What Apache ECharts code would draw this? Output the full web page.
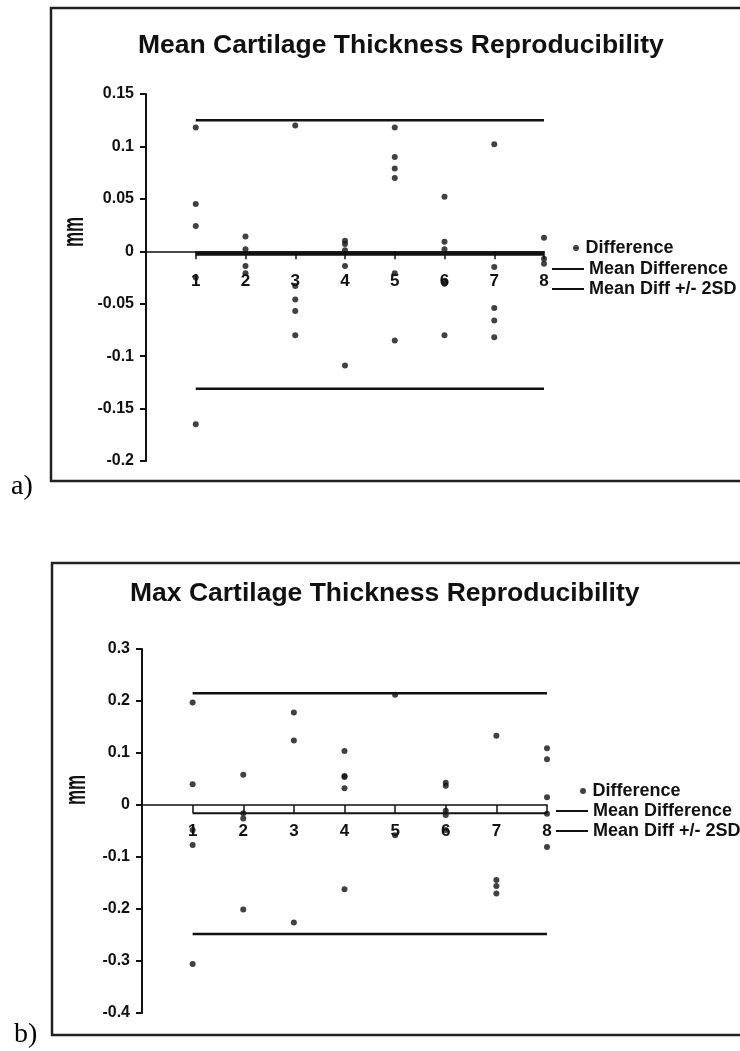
<!DOCTYPE html>
<html>
<head>
<meta charset="utf-8">
<title>Cartilage Thickness Reproducibility</title>
<script src="https://cdn.jsdelivr.net/npm/echarts@6/dist/echarts.min.js"></script>
<style>
    html, body { margin: 0; padding: 0; background: #fff; }
    #chart { width: 740px; height: 1051px; }
</style>
</head>
<body>
<div id="chart"></div>
<script>
    // cases on the x axis
    const cases = [1, 2, 3, 4, 5, 6, 7, 8]

    // a) mean cartilage thickness, differences per case (mm)
    const meanDiffs = [
        [0.118, 0.045, 0.024, -0.025, -0.165],
        [0.014, 0.002, -0.014, -0.021],
        [0.120, -0.033, -0.046, -0.057, -0.080],
        [0.010, 0.007, 0.001, -0.014, -0.109],
        [0.118, 0.090, 0.079, 0.070, -0.021, -0.085],
        [0.052, 0.009, 0.002, -0.028, -0.031, -0.080],
        [0.102, -0.015, -0.054, -0.066, -0.082],
        [0.013, -0.007, -0.012]
    ]
    const meanMean = -0.002
    const meanUpper = 0.125
    const meanLower = -0.131

    // b) max cartilage thickness, differences per case (mm)
    const maxDiffs = [
        [0.197, 0.040, -0.048, -0.077, -0.306],
        [0.058, -0.016, -0.026, -0.201],
        [0.178, 0.124, -0.226],
        [0.104, 0.056, 0.054, 0.032, -0.162],
        [0.212, -0.058],
        [0.043, 0.037, -0.011, -0.019, -0.048],
        [0.133, -0.144, -0.156, -0.170],
        [0.109, 0.088, 0.015, -0.017, -0.081]
    ]
    const maxMean = -0.016
    const maxUpper = 0.215
    const maxLower = -0.248

    const yTicksA = { min: -0.2, max: 0.15, interval: 0.05 }
    const yTicksB = { min: -0.4, max: 0.3, interval: 0.1 }

    const FONT = 'Liberation Sans, Arial, sans-serif'
    const INK = '#111'

    function points(groups) {
        let out = []
        groups.forEach((vals, i) => {
            vals.forEach(v => out.push([cases[i], v]))
        })
        return out
    }

    function hline(name, idx, val, width) {
        return {
            name: name,
            type: 'line',
            xAxisIndex: idx,
            yAxisIndex: idx,
            symbol: 'none',
            data: [[cases[0], val], [cases[cases.length - 1], val]],
            lineStyle: { color: INK, width: width },
            itemStyle: { color: INK },
            z: 3
        }
    }

    // labels sit just under the zero line, not at the grid bottom
    function xAxisOf(idx, margin) {
        return {
            type: 'value',
            gridIndex: idx,
            min: 0,
            max: 8,
            interval: 1,
            axisLine: { show: true, onZero: true, lineStyle: { color: INK, width: 1.5 } },
            axisTick: { show: true, length: 8, lineStyle: { color: INK, width: 1.5 } },
            axisLabel: {
                margin: margin,
                color: INK,
                fontFamily: FONT,
                fontWeight: 'bold',
                fontSize: 17,
                formatter: v => v === 0 ? '' : String(v)
            },
            splitLine: { show: false }
        }
    }

    function yAxisOf(idx, ticks) {
        return {
            type: 'value',
            gridIndex: idx,
            min: ticks.min,
            max: ticks.max,
            interval: ticks.interval,
            axisLine: { show: true, lineStyle: { color: INK, width: 2 } },
            axisTick: { show: true, length: 6, lineStyle: { color: INK, width: 2 } },
            axisLabel: {
                margin: 12,
                color: INK,
                fontFamily: FONT,
                fontWeight: 'bold',
                fontSize: 16
            },
            splitLine: { show: false }
        }
    }

    function dotLegend(left, top) {
        return {
            orient: 'vertical',
            left: left,
            top: top,
            padding: 0,
            itemWidth: 9,
            itemHeight: 6,
            data: [{ name: 'Difference', icon: 'circle' }],
            itemStyle: { color: INK },
            textStyle: { color: INK, fontFamily: FONT, fontWeight: 'bold', fontSize: 18, lineHeight: 20 },
            selectedMode: false
        }
    }

    function lineLegend(left, top, w) {
        return {
            orient: 'vertical',
            left: left,
            top: top,
            padding: 0,
            itemWidth: w,
            itemHeight: 2,
            itemGap: 0,
            data: [
                { name: 'Mean Difference', icon: 'rect' },
                { name: 'Mean Diff +/- 2SD', icon: 'rect' }
            ],
            itemStyle: { color: INK },
            textStyle: { color: INK, fontFamily: FONT, fontWeight: 'bold', fontSize: 18, lineHeight: 20 },
            selectedMode: false
        }
    }

    const myChart = echarts.init(document.getElementById('chart'))
    const options = {
        animation: false,
        backgroundColor: '#fff',
        title: [
            {
                text: 'Mean Cartilage Thickness Reproducibility',
                left: 138,
                top: 32,
                padding: 0,
                textStyle: { color: INK, fontFamily: FONT, fontWeight: 'bold', fontSize: 26.5 }
            },
            {
                text: 'Max Cartilage Thickness Reproducibility',
                left: 130,
                top: 580,
                padding: 0,
                textStyle: { color: INK, fontFamily: FONT, fontWeight: 'bold', fontSize: 26.5 }
            }
        ],
        legend: [
            dotLegend(573, 238),
            lineLegend(552, 259, 32),
            dotLegend(580, 781),
            lineLegend(556, 801, 32)
        ],
        grid: [
            { left: 146, right: 196, top: 94, bottom: 590 },
            { left: 142, right: 193, top: 649, bottom: 38 }
        ],
        xAxis: [xAxisOf(0, -188), xAxisOf(1, -190)],
        yAxis: [yAxisOf(0, yTicksA), yAxisOf(1, yTicksB)],
        series: [
            {
                name: 'Difference',
                type: 'scatter',
                xAxisIndex: 0,
                yAxisIndex: 0,
                symbol: 'circle',
                symbolSize: 6,
                itemStyle: { color: INK },
                data: points(meanDiffs),
                z: 4
            },
            hline('Mean Difference', 0, meanMean, 4.5),
            hline('Mean Diff +/- 2SD', 0, meanUpper, 2.5),
            hline('Mean Diff +/- 2SD', 0, meanLower, 2.5),
            {
                name: 'Difference',
                type: 'scatter',
                xAxisIndex: 1,
                yAxisIndex: 1,
                symbol: 'circle',
                symbolSize: 6,
                itemStyle: { color: INK },
                data: points(maxDiffs),
                z: 4
            },
            hline('Mean Difference', 1, maxMean, 2),
            hline('Mean Diff +/- 2SD', 1, maxUpper, 2.5),
            hline('Mean Diff +/- 2SD', 1, maxLower, 2.5)
        ],
        graphic: [
            // panel frames (cut off at the right edge like the scan)
            { type: 'rect', shape: { x: 51, y: 8, width: 720, height: 473 }, style: { fill: 'none', stroke: '#222', lineWidth: 2.5 } },
            { type: 'rect', shape: { x: 52, y: 563, width: 720, height: 472 }, style: { fill: 'none', stroke: '#222', lineWidth: 2.5 } },
            // y axis names
            {
                type: 'text', x: 75, y: 232, rotation: Math.PI / 2, scaleY: 1.7,
                style: { text: 'mm', fill: INK, fontFamily: FONT, fontWeight: 'bold', fontSize: 17, align: 'center', verticalAlign: 'middle', textAlign: 'center', textVerticalAlign: 'middle' }
            },
            {
                type: 'text', x: 77, y: 790, rotation: Math.PI / 2, scaleY: 1.7,
                style: { text: 'mm', fill: INK, fontFamily: FONT, fontWeight: 'bold', fontSize: 17, align: 'center', verticalAlign: 'middle', textAlign: 'center', textVerticalAlign: 'middle' }
            },
            // panel letters
            {
                type: 'text', x: 11, y: 487,
                style: { text: 'a)', fill: '#000', fontFamily: 'Liberation Serif, Times New Roman, serif', fontSize: 28, align: 'left', verticalAlign: 'middle', textAlign: 'left', textVerticalAlign: 'middle' }
            },
            {
                type: 'text', x: 14, y: 1035,
                style: { text: 'b)', fill: '#000', fontFamily: 'Liberation Serif, Times New Roman, serif', fontSize: 28, align: 'left', verticalAlign: 'middle', textAlign: 'left', textVerticalAlign: 'middle' }
            }
        ]
    }
    myChart.setOption(options)
    window.addEventListener('resize', myChart.resize)
</script>
</body>
</html>
